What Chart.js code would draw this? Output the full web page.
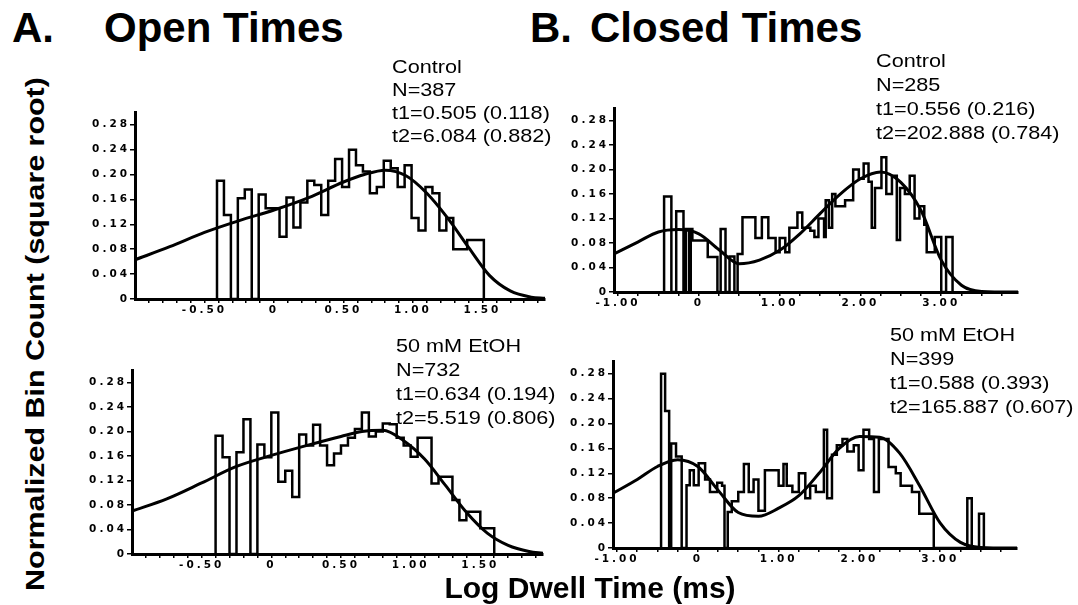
<!DOCTYPE html>
<html>
<head>
<meta charset="utf-8">
<title>Open and Closed Dwell Times</title>
<script src="https://cdn.jsdelivr.net/npm/chart.js@4.4.1/dist/chart.umd.min.js"></script>
<style>
    body { margin: 0; background: #fff; }
    #figure {
        position: relative;
        width: 1078px;
        height: 605px;
        overflow: hidden;
        font-family: "Liberation Sans", Arial, sans-serif;
        color: #000;
    }
    #figure canvas { position: absolute; }
    .title {
        position: absolute;
        top: 7px;
        font-size: 42px;
        line-height: 42px;
        font-weight: bold;
        white-space: nowrap;
    }
    .note {
        position: absolute;
        font-size: 18.5px;
        white-space: nowrap;
        transform: scaleX(1.17);
        transform-origin: 0 0;
        z-index: 2;
    }
    .xlabel {
        position: absolute;
        left: 590px;
        top: 573px;
        font-size: 30px;
        line-height: 30px;
        font-weight: bold;
        white-space: nowrap;
        transform: translateX(-50%);
    }
    .ylabel {
        position: absolute;
        left: 35px;
        top: 334px;
        font-size: 26px;
        line-height: 26px;
        font-weight: bold;
        white-space: nowrap;
        transform: translate(-50%, -50%) rotate(-90deg) scaleX(1.17);
    }
</style>
</head>
<body>
<div id="figure">
    <div class="title" style="left:12px">A.</div>
    <div class="title" style="left:104px">Open Times</div>
    <div class="title" style="left:530px">B.</div>
    <div class="title" style="left:590px">Closed Times</div>

    <div class="note" style="left:392px; top:55px; line-height:23px">Control<br>N=387<br>t1=0.505 (0.118)<br>t2=6.084 (0.882)</div>
    <div class="note" style="left:876px; top:49px; line-height:24px">Control<br>N=285<br>t1=0.556 (0.216)<br>t2=202.888 (0.784)</div>
    <div class="note" style="left:396px; top:334px; line-height:24px">50 mM EtOH<br>N=732<br>t1=0.634 (0.194)<br>t2=5.519 (0.806)</div>
    <div class="note" style="left:890px; top:323px; line-height:24px">50 mM EtOH<br>N=399<br>t1=0.588 (0.393)<br>t2=165.887 (0.607)</div>

    <canvas id="openCtrl" width="476" height="218" style="left:75px; top:106px"></canvas>
    <canvas id="openEtoh" width="477" height="215" style="left:72px; top:364px"></canvas>
    <canvas id="closedCtrl" width="470" height="215" style="left:554px; top:102px"></canvas>
    <canvas id="closedEtoh" width="470" height="218" style="left:553px; top:355px"></canvas>

    <div class="ylabel">Normalized Bin Count (square root)</div>
    <div class="xlabel">Log Dwell Time (ms)</div>
</div>

<script>
// tick labels
const yTicks = [0, 0.04, 0.08, 0.12, 0.16, 0.20, 0.24, 0.28];
const openMajorX = [-0.5, 0, 0.5, 1.0, 1.5];
const openMinorX = [-0.9, -0.8, -0.7, -0.6, -0.4, -0.3, -0.2, -0.1, 0.1, 0.2, 0.3, 0.4,
    0.6, 0.7, 0.8, 0.9, 1.1, 1.2, 1.3, 1.4, 1.6, 1.7, 1.8, 1.9];
const closedMajorX = [-1, 0, 1, 2, 3];
const closedMinorX = [-0.75, -0.5, -0.25, 0.25, 0.5, 0.75, 1.25, 1.5, 1.75, 2.25, 2.5, 2.75,
    3.25, 3.5, 3.75];

// A. open times, control
const openCtrlEdges = [-0.41, -0.36, -0.31, -0.26, -0.21, -0.16, -0.11, -0.06, -0.01, 0.04,
    0.09, 0.14, 0.19, 0.24, 0.29, 0.34, 0.39, 0.44, 0.49, 0.54, 0.59, 0.64, 0.69, 0.74, 0.79,
    0.84, 0.89, 0.94, 0.99, 1.04, 1.09, 1.14, 1.19, 1.24, 1.29, 1.34, 1.39, 1.45, 1.51];
const openCtrlHeights = [0.19, 0.135, 0, 0.162, 0.176, 0, 0.168, 0.146, 0.146, 0.10,
    0.163, 0.115, 0.155, 0.19, 0.183, 0.135, 0.19, 0.225, 0.18, 0.24, 0.215, 0.205, 0.17, 0.18,
    0.222, 0.21, 0.18, 0.215, 0.13, 0.11, 0.18, 0.17, 0.11, 0.13, 0.08, 0.08, 0.095, 0.095];
const openFitX = [-1.0, -0.75, -0.5, -0.25, 0, 0.25, 0.5, 0.65, 0.8, 0.95, 1.1, 1.25, 1.4,
    1.55, 1.7, 1.85, 1.95];
const openCtrlFit = [0.063, 0.084, 0.107, 0.126, 0.143, 0.163, 0.188, 0.200, 0.207, 0.198,
    0.17, 0.13, 0.083, 0.038, 0.013, 0.003, 0.001];

// A. open times, 50 mM EtOH
const openEtohEdges = [-0.40, -0.35, -0.30, -0.25, -0.20, -0.15, -0.10, -0.05, 0, 0.05, 0.10,
    0.15, 0.20, 0.25, 0.30, 0.35, 0.40, 0.45, 0.50, 0.55, 0.60, 0.65, 0.70, 0.75, 0.80, 0.85,
    0.90, 0.95, 1.00, 1.05, 1.10, 1.15, 1.20, 1.25, 1.30, 1.35, 1.40, 1.45, 1.50, 1.55, 1.60];
const openEtohHeights = [0.193, 0.158, 0, 0.166, 0.22, 0, 0.179, 0.158, 0.231, 0.118,
    0.136, 0.093, 0.195, 0.177, 0.211, 0.177, 0.145, 0.164, 0.177, 0.19, 0.204, 0.231, 0.192,
    0.20, 0.213, 0.212, 0.19, 0.177, 0.159, 0.19, 0.19, 0.115, 0.126, 0.126, 0.088, 0.055,
    0.069, 0.069, 0.042, 0.042];
const openEtohFit = [0.07, 0.09, 0.116, 0.143, 0.161, 0.177, 0.192, 0.2, 0.202, 0.185,
    0.155, 0.112, 0.068, 0.034, 0.014, 0.004, 0.001];

// B. closed times, control
const closedCtrlEdges = [-0.43, -0.34, -0.28, -0.19, -0.16, -0.12, -0.10, -0.08, 0.11, 0.23,
    0.27, 0.33, 0.38, 0.44, 0.48, 0.54, 0.70, 0.78, 0.86, 0.95, 1.00, 1.07, 1.12, 1.22, 1.28,
    1.38, 1.43, 1.48, 1.55, 1.57, 1.61, 1.65, 1.69, 1.81, 1.91, 1.98, 2.04, 2.10, 2.14, 2.18,
    2.26, 2.32, 2.39, 2.45, 2.49, 2.55, 2.61, 2.67, 2.73, 2.79, 2.82, 2.92, 3.00, 3.06, 3.14];
const closedCtrlHeights = [0.156, 0, 0.132, 0, 0.103, 0, 0.103, 0.084, 0.057, 0,
    0.103, 0, 0.058, 0, 0.062, 0.122, 0.088, 0.122, 0.088, 0.065, 0.088, 0.065, 0.105, 0.13,
    0.105, 0.10, 0.09, 0.12, 0.09, 0.15, 0.105, 0.16, 0.14, 0.15, 0.20, 0.185, 0.21, 0.18,
    0.105, 0.17, 0.22, 0.16, 0.19, 0.085, 0.17, 0.16, 0.19, 0.12, 0.14, 0.11, 0.065, 0.09,
    0, 0.09];
const closedFitX = [-1.05, -0.75, -0.5, -0.25, 0, 0.25, 0.5, 0.75, 1.0, 1.25, 1.5, 1.75,
    2.0, 2.25, 2.5, 2.75, 3.0, 3.25, 3.5, 3.95];
const closedCtrlFit = [0.062, 0.082, 0.098, 0.102, 0.095, 0.069, 0.046, 0.052, 0.068,
    0.095, 0.128, 0.16, 0.185, 0.196, 0.179, 0.133, 0.052, 0.011, 0.001, 0];

// B. closed times, 50 mM EtOH
const closedEtohEdges = [-0.455, -0.405, -0.355, -0.33, -0.27, -0.20, -0.14, -0.10, -0.05,
    0.01, 0.09, 0.15, 0.24, 0.30, 0.33, 0.37, 0.42, 0.50, 0.57, 0.63, 0.69, 0.75, 0.83,
    1.00, 1.06, 1.10, 1.17, 1.25, 1.33, 1.39, 1.46, 1.56, 1.60, 1.66, 1.72, 1.79, 1.85, 1.93,
    1.99, 2.05, 2.12, 2.18, 2.24, 2.36, 2.45, 2.51, 2.65, 2.74, 2.92, 3.335, 3.39, 3.48, 3.54];
const closedEtohHeights = [0.28, 0.22, 0, 0.168, 0.147, 0, 0.101, 0.125, 0.101,
    0.136, 0.11, 0.09, 0.105, 0.10, 0, 0.058, 0.075, 0.09, 0.135, 0.09, 0.11, 0.06, 0.125,
    0.10, 0.135, 0.10, 0.09, 0.12, 0.08, 0.10, 0.09, 0.19, 0.08, 0.15, 0.165, 0.175, 0.155,
    0.165, 0.125, 0.19, 0.175, 0.09, 0.175, 0.13, 0.12, 0.10, 0.09, 0.055, 0, 0.08, 0, 0.055];
const closedEtohFit = [0.088, 0.11, 0.131, 0.142, 0.131, 0.093, 0.057, 0.051, 0.064,
    0.084, 0.12, 0.16, 0.179, 0.178, 0.152, 0.099, 0.04, 0.009, 0.001, 0];

document.addEventListener('DOMContentLoaded', function() {
    const tickFont = { family: '"DejaVu Sans", sans-serif', size: 10.5, weight: 'bold' };
    const fmtTick = v => (v === 0 ? '0' : v.toFixed(2));

    // wide, spaced-out tick numbers like the original plot
    const wideTicks = {
        id: 'wideTicks',
        beforeDraw: chart => { chart.ctx.letterSpacing = '3px'; }
    };

    // step outline: down to zero at both ends
    const buildHistogram = (edges, heights) => {
        const pts = [{ x: edges[0], y: 0 }];
        heights.forEach((h, i) => pts.push({ x: edges[i], y: h }));
        pts.push({ x: edges[edges.length - 1], y: 0 });
        return pts;
    };

    const buildCurve = (xs, ys) => xs.map((x, i) => ({ x: x, y: ys[i] }));

    const initPanel = (id, hist, fit, xMin, xMax, xMajor, xMinor) => {
        const ctx = document.getElementById(id).getContext('2d');
        const allX = xMajor.concat(xMinor).sort((a, b) => a - b);
        new Chart(ctx, {
            type: 'line',
            data: {
                datasets: [{
                    data: hist,
                    stepped: 'before',
                    borderColor: '#000',
                    borderWidth: 2.5,
                    borderJoinStyle: 'miter',
                    pointRadius: 0,
                    fill: false
                }, {
                    data: fit,
                    cubicInterpolationMode: 'monotone',
                    borderColor: '#000',
                    borderWidth: 3,
                    pointRadius: 0,
                    fill: false
                }]
            },
            options: {
                responsive: false,
                animation: false,
                events: [],
                layout: { padding: { top: 6, right: 6, left: 0, bottom: 0 } },
                plugins: { legend: { display: false }, tooltip: { enabled: false } },
                scales: {
                    x: {
                        type: 'linear',
                        min: xMin,
                        max: xMax,
                        afterBuildTicks: s => { s.ticks = allX.map(v => ({ value: v })); },
                        afterFit: s => { s.height = 25; },
                        ticks: {
                            autoSkip: false,
                            maxRotation: 0,
                            padding: 1,
                            color: '#000',
                            font: tickFont,
                            callback: v => (xMajor.includes(v) ? fmtTick(v) : '')
                        },
                        grid: { drawOnChartArea: false, drawTicks: true, tickLength: 4, color: '#000', lineWidth: 1.5 },
                        border: { display: true, color: '#000', width: 3 }
                    },
                    y: {
                        min: 0,
                        max: 0.3,
                        afterBuildTicks: s => { s.ticks = yTicks.map(v => ({ value: v })); },
                        afterFit: s => { s.width = 60; },
                        ticks: {
                            padding: 0,
                            color: '#000',
                            font: tickFont,
                            callback: v => fmtTick(v)
                        },
                        grid: { drawOnChartArea: false, drawTicks: true, tickLength: 5, color: '#000', lineWidth: 1.5 },
                        border: { display: true, color: '#000', width: 3 }
                    }
                }
            },
            plugins: [wideTicks]
        });
    };

    // A. Open Times
    initPanel('openCtrl', buildHistogram(openCtrlEdges, openCtrlHeights),
        buildCurve(openFitX, openCtrlFit), -1.0, 1.95, openMajorX, openMinorX);
    initPanel('openEtoh', buildHistogram(openEtohEdges, openEtohHeights),
        buildCurve(openFitX, openEtohFit), -1.0, 1.95, openMajorX, openMinorX);

    // B. Closed Times
    initPanel('closedCtrl', buildHistogram(closedCtrlEdges, closedCtrlHeights),
        buildCurve(closedFitX, closedCtrlFit), -1.05, 3.95, closedMajorX, closedMinorX);
    initPanel('closedEtoh', buildHistogram(closedEtohEdges, closedEtohHeights),
        buildCurve(closedFitX, closedEtohFit), -1.05, 3.95, closedMajorX, closedMinorX);
});
</script>
</body>
</html>
